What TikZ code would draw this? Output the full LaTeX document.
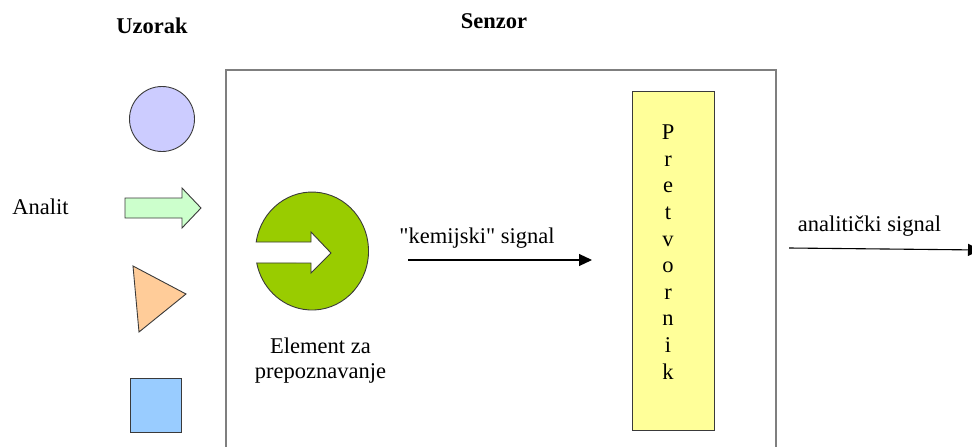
\documentclass[tikz,border=0pt]{standalone}
\usepackage{fontspec}
\setmainfont{Liberation Serif}
\newfontfamily\plainq{Liberation Serif}
\definecolor{lilac}{HTML}{CCCCFF}
\definecolor{mint}{HTML}{CCFFCC}
\definecolor{peach}{HTML}{FFCC99}
\definecolor{skyb}{HTML}{99CCFF}
\definecolor{pale}{HTML}{FFFF99}
\definecolor{leaf}{HTML}{99CC00}
\definecolor{edge}{HTML}{3A3A3A}
\tikzset{
  shapeline/.style={draw=edge,line width=0.9pt,line join=miter},
  lbl/.style={inner sep=0pt,font=\fontsize{22.5}{26}\selectfont,text=black},
  head/.style={inner sep=0pt,font=\fontsize{22.5}{26}\selectfont\bfseries,text=black},
  sig/.style={draw=black,line width=1.1pt,-{Triangle[length=13pt,width=12pt]}}
}
\usetikzlibrary{arrows.meta}
\begin{document}
\begin{tikzpicture}[x=1pt,y=-1pt]
\useasboundingbox (0,0) rectangle (972,447);
\begin{scope}
\clip (0,0) rectangle (972,447);
\node[draw=edge!65!white,line width=1.5pt,minimum width=550pt,minimum height=420pt,inner sep=0pt,anchor=north west] (senzor) at (225,69) {};
\end{scope}
\node[head] (tu) at (152,26) {Uzorak};
\node[head] (ts) at (494,21) {Senzor};
\node[lbl] (an) at (40.5,207) {Analit};
% sample shapes
\node[shapeline,circle,fill=lilac,minimum size=65pt,inner sep=0pt] (kr) at (162,119) {};
\draw[shapeline,fill=mint] (125,198) -- (182,198) -- (182,188) -- (201,208) -- (182,228) -- (182,218) -- (125,218) -- cycle;
\draw[shapeline,fill=peach] (133,266) -- (186,294) -- (139,332) -- cycle;
\node[shapeline,fill=skyb,minimum width=51pt,minimum height=54pt,inner sep=0pt,anchor=north west] (kv) at (130,378) {};
% recognition element
\draw[shapeline,fill=leaf] (256.2,242) arc[start angle=188.8,end angle=528.3,x radius=56.5,y radius=59]
  -- (311,263) -- (311,273) -- (331,253) -- (311,232) -- (311,242) -- cycle;
\node[lbl,align=center,font=\fontsize{22.5}{25}\selectfont] (el) at (320.5,361) {Element za\\prepoznavanje};
% transducer
\node[shapeline,fill=pale,minimum width=82pt,minimum height=339pt,inner sep=0pt,anchor=north west] (pr) at (632,91) {};
\node[lbl,align=center,font=\fontsize{22.5}{26.6}\selectfont] (prt) at (668,252) {P\\r\\e\\t\\v\\o\\r\\n\\i\\k};
% signals
\node[lbl] (ks) at (477,238) {{\plainq "}kemijski{\plainq "} signal};
\coordinate (a1) at (408,260);
\coordinate (a2) at (592,260);
\draw[sig] (a1) -- (a2);
\node[lbl] (as) at (869.5,226) {analitički signal};
\coordinate (b1) at (789,248);
\coordinate (b2) at (981,250);
\draw[sig] (b1) -- (b2);
\end{tikzpicture}
\end{document}
